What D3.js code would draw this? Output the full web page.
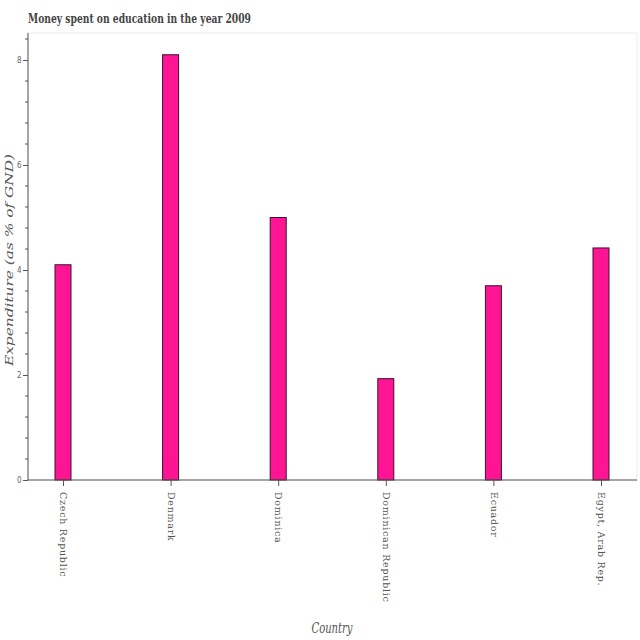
<!DOCTYPE html>
<html><head><meta charset="utf-8">
<script src="https://cdn.jsdelivr.net/npm/d3@7/dist/d3.min.js"></script>
<style>body{margin:0;background:#fff}svg{display:block}</style>
</head><body>
<svg id="c" width="640" height="640"></svg>
<script>
const countries = ["Czech Republic","Denmark","Dominica","Dominican Republic","Ecuador","Egypt, Arab Rep."];
const expenditure = [4.1, 8.1, 5.0, 1.93, 3.7, 4.42];
const yTicks = [0, 2, 4, 6, 8];

const svg = d3.select("#c");
const L = 28, R = 637, T = 33, B = 480;
const x = d3.scalePoint().domain(countries).range([63, 601]);
const y = d3.scaleLinear().domain([0, 8.5]).range([B, B - 8.5 * 52.5]);
const barW = 16;

// frame
svg.append("rect").attr("x", L).attr("y", T).attr("width", R - L).attr("height", B - T)
  .attr("fill", "none").attr("stroke", "#ececec").attr("stroke-width", 1);

// bars
svg.selectAll("rect.bar").data(countries).join("rect").attr("class", "bar")
  .attr("x", d => x(d) - barW / 2)
  .attr("y", (d, i) => y(expenditure[i]))
  .attr("width", barW)
  .attr("height", (d, i) => y(0) - y(expenditure[i]))
  .attr("fill", "#ff1493").attr("stroke", "#3a1030").attr("stroke-width", 1);

// y axis
const yAxis = d3.axisLeft(y).tickValues(yTicks).tickSize(5).tickPadding(1.5).tickFormat(d3.format("d"));
const gy = svg.append("g").attr("transform", `translate(${L},0)`).call(yAxis);
gy.select(".domain").attr("d", `M0,${T}V${B}`).attr("stroke", "#555");
gy.selectAll(".tick line").attr("stroke", "#555");
gy.selectAll(".tick text").attr("fill", "#666").style("font-family", "DejaVu Sans").style("font-stretch", "condensed").style("font-size", "8px");
// minor ticks
const minor = d3.range(0, 8.5, 0.4).filter(v => Math.abs(v / 2 - Math.round(v / 2)) > 1e-6);
gy.selectAll("line.minor").data(minor).join("line").attr("class", "minor")
  .attr("x1", -3).attr("x2", 0).attr("y1", d => y(d)).attr("y2", d => y(d)).attr("stroke", "#555");

// x axis
const xAxis = d3.axisBottom(x).tickSize(6).tickPadding(0);
const gx = svg.append("g").attr("transform", `translate(0,${B})`).call(xAxis);
gx.select(".domain").attr("d", `M${L},0H${R}`).attr("stroke", "#555");
gx.selectAll(".tick line").attr("stroke", "#555");
gx.selectAll(".tick text").attr("fill", "#555")
  .style("font-family", "DejaVu Serif").style("font-size", "9.5px").style("letter-spacing", "0.75px")
  .attr("transform", "translate(0,12) rotate(90)").attr("x", 0).attr("y", 0)
  .attr("dy", "0.35em").attr("text-anchor", "start");

// title
svg.append("text").attr("x", L).attr("y", 23).text("Money spent on education in the year 2009")
  .attr("textLength", 223).attr("lengthAdjust", "spacingAndGlyphs")
  .attr("fill", "#444").style("font-family", "DejaVu Serif").style("font-stretch", "condensed").style("font-weight", "bold").style("font-size", "13.5px");

// axis labels
svg.append("text").attr("transform", `translate(13,260) rotate(-90)`).attr("text-anchor", "middle")
  .text("Expenditure (as % of GND)").attr("fill", "#555")
  .attr("textLength", 212).attr("lengthAdjust", "spacingAndGlyphs")
  .style("font-family", "DejaVu Serif").style("font-style", "italic").style("font-size", "11.5px");
svg.append("text").attr("x", 332).attr("y", 633).attr("text-anchor", "middle").text("Country")
  .attr("textLength", 41).attr("lengthAdjust", "spacingAndGlyphs")
  .attr("fill", "#555").style("font-family", "DejaVu Serif").style("font-stretch", "condensed").style("font-style", "italic").style("font-size", "15px");
</script>
</body></html>
